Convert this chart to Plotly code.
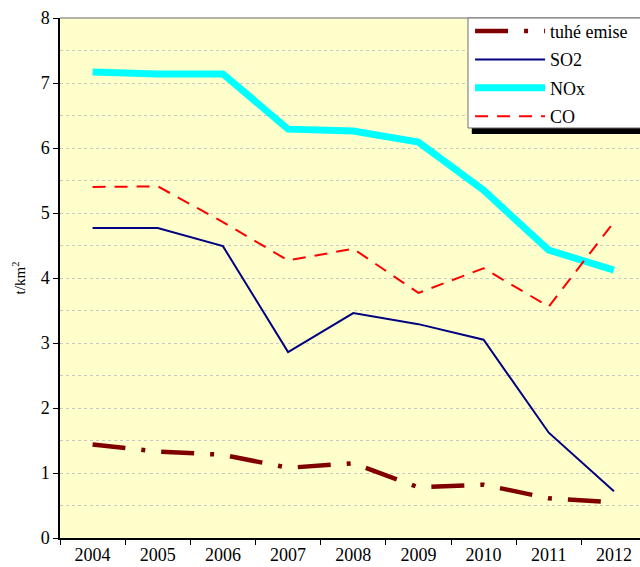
import plotly.graph_objects as go

years = ["2004", "2005", "2006", "2007", "2008", "2009", "2010", "2011", "2012"]
tuhe_emise = [1.44, 1.33, 1.28, 1.08, 1.15, 0.78, 0.82, 0.61, 0.55]
so2 = [4.77, 4.77, 4.49, 2.86, 3.46, 3.29, 3.05, 1.62, 0.72]
nox = [7.17, 7.14, 7.14, 6.29, 6.26, 6.09, 5.35, 4.43, 4.12]
co = [5.40, 5.41, 4.86, 4.27, 4.45, 3.77, 4.15, 3.56, 4.86]

fig = go.Figure()
fig.add_trace(go.Scatter(x=years, y=tuhe_emise, name="tuhé emise", mode="lines", legendgroup="a",
                         line=dict(color="#800000", width=4.5, dash="33px,16px,4px,16px")))
fig.add_trace(go.Scatter(x=years, y=so2, name="SO2", mode="lines", legendgroup="b",
                         line=dict(color="#000080", width=2)))
fig.add_trace(go.Scatter(x=years, y=nox, name="NOx", mode="lines", legendgroup="c",
                         line=dict(color="#00FFFF", width=7)))
fig.add_trace(go.Scatter(x=years, y=co, name="CO", mode="lines", legendgroup="d",
                         line=dict(color="#FF0000", width=2, dash="13px,9px")))

font = "Liberation Serif, Times New Roman, serif"
fig.update_layout(
    width=640, height=567,
    margin=dict(l=60, r=0, t=18, b=29),
    paper_bgcolor="white",
    plot_bgcolor="#FFFFCC",
    font=dict(family=font, size=18, color="black"),
    showlegend=True,
    legend=dict(x=0.707, y=1.01, xanchor="left", yanchor="top",
                bgcolor="rgba(0,0,0,0)", borderwidth=0,
                font=dict(family=font, size=18), traceorder="grouped", tracegroupgap=2,
                itemwidth=70),
    xaxis=dict(type="category", range=[-0.5, 8.4], tickson="boundaries",
               ticks="outside", ticklen=5, tickcolor="black",
               showline=True, linecolor="black", linewidth=1.5,
               showgrid=False, tickfont=dict(family=font, size=18)),
    yaxis=dict(range=[0, 8], tickvals=list(range(9)), ticks="outside", ticklen=5,
               tickcolor="black", showline=True, linecolor="black", linewidth=1.5,
               showgrid=True, gridcolor="#C8C8C8", griddash="dot", gridwidth=1,
               minor=dict(dtick=0.5, showgrid=True, gridcolor="#C8C8C8", griddash="dot"),
               zeroline=False,
               title=dict(text="t/km<sup>2</sup>", font=dict(family=font, size=15), standoff=11),
               tickfont=dict(family=font, size=18)),
)
fig.add_shape(type="line", xref="paper", yref="paper", x0=0, x1=1, y0=1, y1=1,
              line=dict(color="#999999", width=1.5))
# legend shadow and box
fig.add_shape(type="rect", xref="paper", yref="paper", x0=0.710, x1=1.05, y0=0.7770, y1=0.80,
              fillcolor="black", line=dict(width=0), layer="above")
fig.add_shape(type="rect", xref="paper", yref="paper", x0=0.7034, x1=1.05, y0=0.7885, y1=1.0,
              fillcolor="white", line=dict(color="#707070", width=1), layer="above")
fig.write_html("out.html", config={"displayModeBar": False},
               post_script="document.body.style.margin='0';document.body.style.overflow='hidden';")
